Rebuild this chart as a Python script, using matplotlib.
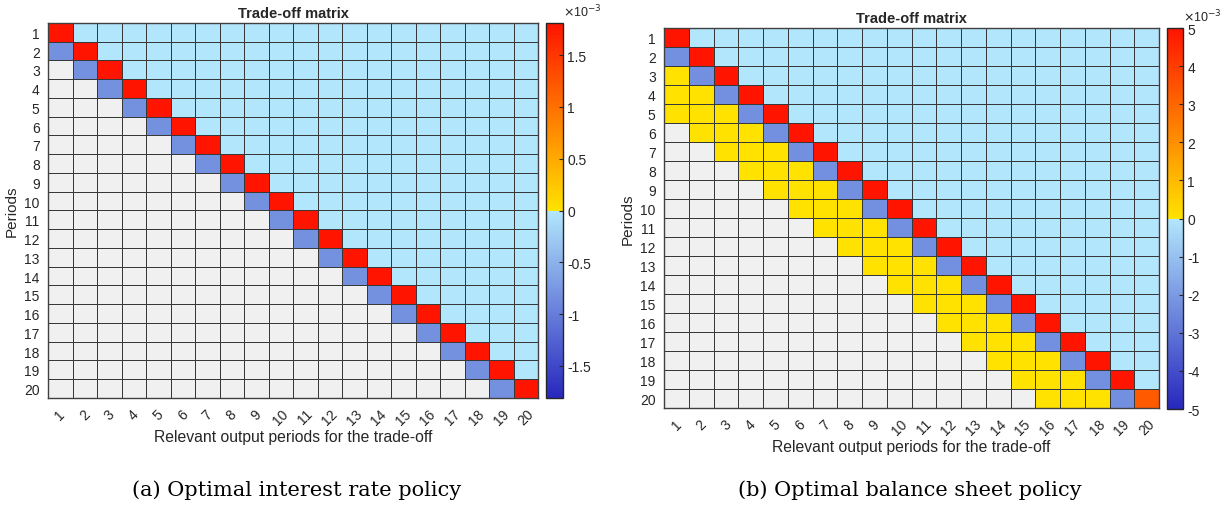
import numpy as np
import matplotlib
matplotlib.use("Agg")
import matplotlib.pyplot as plt
from matplotlib.colors import ListedColormap

plt.rcParams['font.family'] = ['Liberation Sans', 'DejaVu Sans']

# ---- data (values in units of 1e-3) ----
n_periods = 20
periods = list(range(1, 21))

# (a) optimal interest rate policy
diag_a = [1.80, 1.80, 1.80, 1.80, 1.80, 1.80, 1.80, 1.80, 1.80, 1.80,
          1.80, 1.80, 1.80, 1.80, 1.80, 1.80, 1.80, 1.80, 1.80, 1.80]
subdiag_a = [-0.82, -0.82, -0.82, -0.82, -0.82, -0.82, -0.82, -0.82, -0.82, -0.82,
             -0.82, -0.82, -0.82, -0.82, -0.82, -0.82, -0.82, -0.82, -0.82]
upper_a = -0.005         # every cell above the diagonal
clim_a = 1.81

# (b) optimal balance sheet policy
diag_b = [5.0, 5.0, 5.0, 5.0, 5.0, 5.0, 5.0, 5.0, 5.0, 5.0,
          5.0, 5.0, 5.0, 5.0, 5.0, 5.0, 5.0, 5.0, 5.0, 3.3]
subdiag_b = [-2.3, -2.3, -2.3, -2.3, -2.3, -2.3, -2.3, -2.3, -2.3, -2.3,
             -2.3, -2.3, -2.3, -2.3, -2.3, -2.3, -2.3, -2.3, -2.3]
lag2_b = [0.02] * 18
lag3_b = [0.02] * 17
lag4_b = [0.02] * 16
upper_b = -0.01
clim_b = 5.0


def build_matrix(diag, lower_bands, upper):
    m = np.full((n_periods, n_periods), np.nan)
    m[np.triu_indices(n_periods, 1)] = upper
    m[np.diag_indices(n_periods)] = diag
    for k, band in lower_bands.items():
        idx = np.arange(len(band))
        m[idx + k, idx] = band
    return np.ma.masked_invalid(m)


mat_a = build_matrix(diag_a, {1: subdiag_a}, upper_a)
mat_b = build_matrix(diag_b, {1: subdiag_b, 2: lag2_b, 3: lag3_b, 4: lag4_b}, upper_b)

# two-sided colormap: blues below zero, yellow->red above zero
dark_blue = np.array([40, 40, 190]) / 255
light_blue = np.array([178, 230, 252]) / 255
yellow = np.array([255, 226, 0]) / 255
red = np.array([255, 20, 0]) / 255
t = np.linspace(0, 1, 128)[:, None]
neg = dark_blue + t * (light_blue - dark_blue)
pos = yellow + t * (red - yellow)
cmap = ListedColormap(np.vstack([neg, pos]))
cmap.set_bad('#f0f0f0')

W, H = 1231, 510
fig = plt.figure(figsize=(W / 100, H / 100), dpi=100)
txt = '#262626'


def px(x0, y_top, w, h):
    return [x0 / W, (H - y_top - h) / H, w / W, h / H]


def draw(mat, clim, ax_rect, cb_rect, cticks, caption, cap_x):
    ax = fig.add_axes(px(*ax_rect))
    mesh = ax.pcolormesh(np.arange(n_periods + 1) + 0.5, np.arange(n_periods + 1) + 0.5,
                         mat, cmap=cmap, vmin=-clim, vmax=clim,
                         edgecolors='#383838', linewidth=0.6)
    ax.set_xlim(0.5, n_periods + 0.5)
    ax.set_ylim(n_periods + 0.5, 0.5)
    ax.set_xticks(periods)
    ax.set_yticks(periods)
    ax.set_xticklabels([str(p) for p in periods], rotation=45, ha='center', va='top',
                       fontsize=10, color=txt)
    ax.set_yticklabels([str(p) for p in periods], fontsize=10, color=txt)
    ax.tick_params(length=0, pad=6)
    ax.tick_params(axis='x', pad=6)
    for s in ax.spines.values():
        s.set_color('#404040')
        s.set_linewidth(1.0)
    ax.set_title('Trade-off matrix', fontsize=10.5, fontweight='bold', color=txt, pad=4)
    ax.set_xlabel('Relevant output periods for the trade-off', fontsize=11.3, color=txt,
                  labelpad=1)
    ax.set_ylabel('Periods', fontsize=11, color=txt, labelpad=4)

    cax = fig.add_axes(px(*cb_rect))
    cb = fig.colorbar(mesh, cax=cax)
    cb.set_ticks(cticks)
    cb.set_ticklabels([('%g' % v) for v in cticks])
    cax.tick_params(direction='in', length=3, labelsize=10, labelcolor=txt,
                    color='#262626', pad=3)
    cb.outline.set_edgecolor('#262626')
    cb.outline.set_linewidth(1.0)
    cax.text(1.0, 1.01, r'$\times$10$^{-3}$', transform=cax.transAxes, ha='left',
             va='bottom', fontsize=9, color=txt)

    fig.text(cap_x / W, 1 - 490 / H, caption, ha='center', va='center',
             fontsize=15, family='DejaVu Serif', color='black')


draw(mat_a, clim_a, (48, 24, 490, 375), (546, 24, 17, 375),
     [-1.5, -1, -0.5, 0, 0.5, 1, 1.5], '(a) Optimal interest rate policy', 297)
draw(mat_b, clim_b, (664, 29, 495, 380), (1167, 29, 16, 381),
     [-5, -4, -3, -2, -1, 0, 1, 2, 3, 4, 5], '(b) Optimal balance sheet policy', 910)

fig.savefig('out.png', dpi=100)
